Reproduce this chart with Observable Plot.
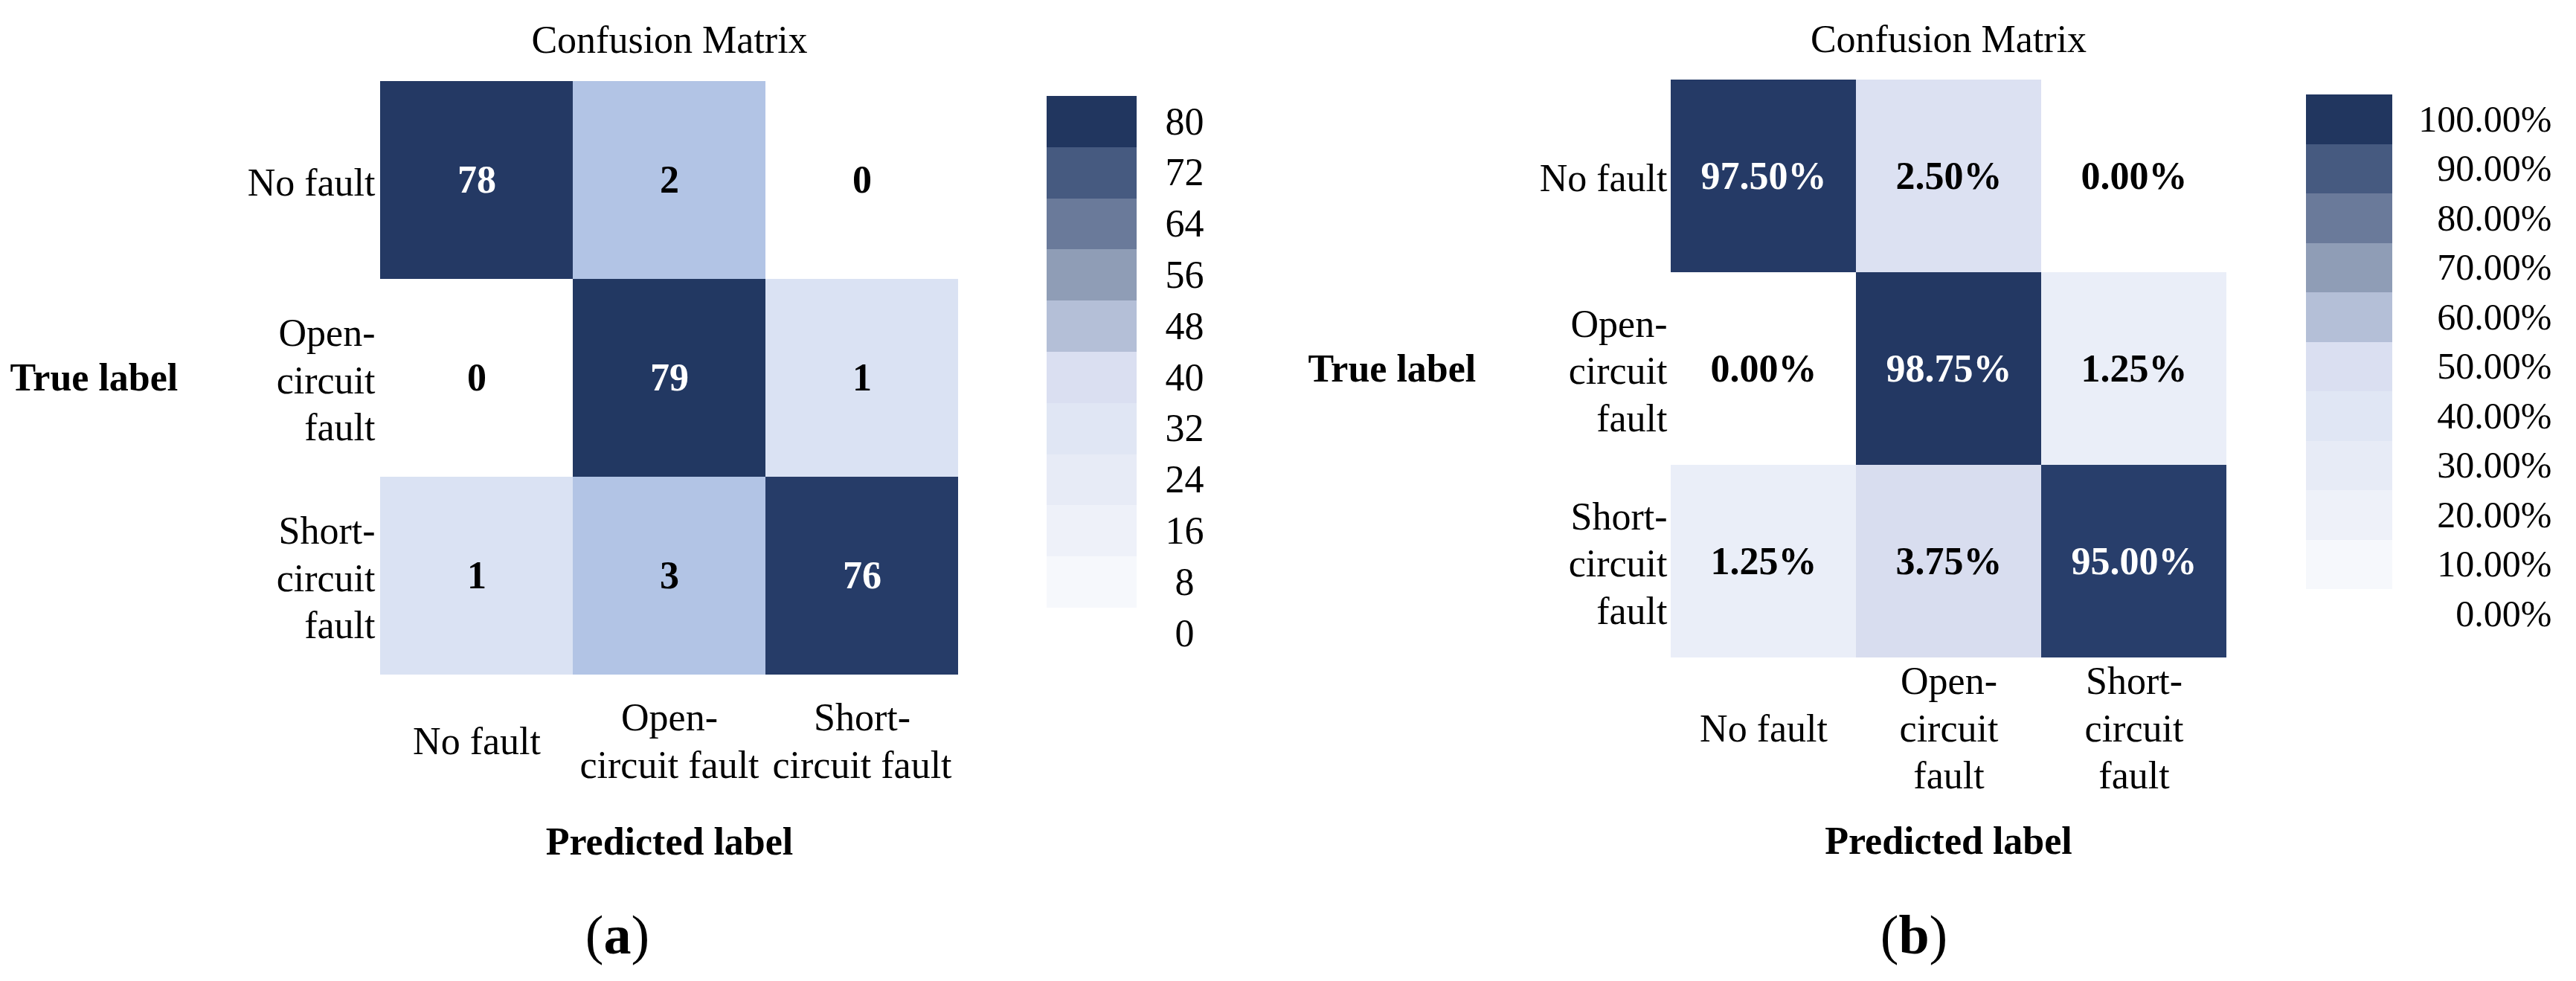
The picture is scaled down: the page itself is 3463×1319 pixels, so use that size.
<!DOCTYPE html>
<html>
<head>
<meta charset="utf-8">
<script src="https://cdn.jsdelivr.net/npm/d3@7"></script>
<script src="https://cdn.jsdelivr.net/npm/@observablehq/plot@0.6"></script>
<style>
  body { margin: 0; background: #fff; }
  #fig { position: relative; width: 3463px; height: 1319px; background: #fff; overflow: hidden; }
  #fig > div { position: absolute; }
  .tag { font-family: "Liberation Serif", "Times New Roman", serif; font-size: 74px; line-height: 74px; text-align: center; color: #000; }
</style>
</head>
<body>
<div id="fig"></div>
<script>
// ---------- data ----------
const classes = ["No fault", "Open-circuit fault", "Short-circuit fault"];
const rowTickLabels = ["No fault", "Open-\ncircuit\nfault", "Short-\ncircuit\nfault"];
const colTickLabelsA = ["No fault", "Open-\ncircuit fault", "Short-\ncircuit fault"];
const colTickLabelsB = ["No fault", "Open-\ncircuit\nfault", "Short-\ncircuit\nfault"];
// rows = true label, columns = predicted label
const countsA = [
  [78, 2, 0],
  [0, 79, 1],
  [1, 3, 76]
];
const percentB = [
  [97.50, 2.50, 0.00],
  [0.00, 98.75, 1.25],
  [1.25, 3.75, 95.00]
];
const cbTicksA = [0, 8, 16, 24, 32, 40, 48, 56, 64, 72, 80];
const cbTicksB = [0, 10, 20, 30, 40, 50, 60, 70, 80, 90, 100];
const titleText = "Confusion Matrix";
const xTitle = "Predicted label";
const yTitle = "True label";

// ---------- styles ----------
const FONT = '"Liberation Serif", "Times New Roman", serif';
const cbColors = ["#f6f8fc", "#eef1f9", "#e7ebf6", "#e0e6f4", "#dadff1",
                  "#b4bfd7", "#8f9db6", "#6a7a9a", "#465a80", "#21365f"];
const cellColorA = { domain: [0, 1, 2, 3, 76, 80],
  range: ["#ffffff", "#dae2f3", "#b2c4e5", "#b2c4e5", "#263c68", "#213660"] };
const cellColorB = { domain: [0, 1.25, 2.5, 3.75, 95, 100],
  range: ["#ffffff", "#eaeef8", "#dce1f2", "#d8ddef", "#283e6b", "#213660"] };

function toCells(matrix) {
  const out = [];
  matrix.forEach((row, i) => row.forEach((v, j) => out.push({ t: classes[i], p: classes[j], v })));
  return out;
}

function matrixPlot(o) {
  const cells = toCells(o.matrix);
  return Plot.plot({
    width: o.width, height: o.height,
    marginLeft: o.ml, marginRight: o.mr, marginTop: o.mt, marginBottom: o.mb,
    style: { fontFamily: FONT, fontSize: "52px", background: "#fff", color: "#000", maxWidth: "none" },
    x: { type: "band", domain: classes, padding: 0 },
    y: { type: "band", domain: classes, padding: 0 },
    color: { type: "linear", domain: o.color.domain, range: o.color.range, interpolate: "rgb" },
    marks: [
      Plot.cell(cells, { x: "p", y: "t", fill: "v", inset: 0, shapeRendering: "crispEdges" }),
      Plot.text(cells.filter(d => d.v > o.whiteAbove), { x: "p", y: "t", text: d => o.fmt(d.v), fill: "white", fontWeight: "bold", fontSize: 52 }),
      Plot.text(cells.filter(d => d.v <= o.whiteAbove), { x: "p", y: "t", text: d => o.fmt(d.v), fill: "black", fontWeight: "bold", fontSize: 52 }),
      Plot.axisX({ anchor: "bottom", tickSize: 0, tickPadding: o.xPad, lineAnchor: "middle", lineHeight: 1.22,
        tickFormat: d => o.colLabels[classes.indexOf(d)], label: null, fontSize: 52 }),
      Plot.axisY({ anchor: "left", tickSize: 0, tickPadding: o.yPad, lineAnchor: "middle", lineHeight: 1.22,
        tickFormat: d => rowTickLabels[classes.indexOf(d)], label: null, fontSize: 52 }),
      Plot.text([titleText], { frameAnchor: "top", lineAnchor: "bottom", dy: -38, text: d => d, fontSize: 52 }),
      Plot.text([xTitle], { frameAnchor: "bottom", lineAnchor: "bottom", dy: o.predDy, text: d => d, fontSize: 52, fontWeight: "bold" }),
      Plot.text([yTitle], { frameAnchor: "left", textAnchor: "start", lineAnchor: "middle", dx: o.trueDx, text: d => d, fontSize: 52, fontWeight: "bold" })
    ]
  });
}

function colorbarPlot(o) {
  const ticks = o.ticks;
  const step = ticks[1] - ticks[0];
  const bands = ticks.slice(0, -1);
  return Plot.plot({
    width: o.width, height: o.height,
    marginLeft: o.ml, marginRight: o.mr, marginTop: o.mt, marginBottom: o.mb,
    style: { fontFamily: FONT, fontSize: "52px", background: "#fff", color: "#000", maxWidth: "none" },
    y: { domain: [ticks[0], ticks[ticks.length - 1]], axis: null },
    color: { type: "threshold", domain: bands.slice(1), range: cbColors },
    marks: [
      Plot.rect(bands, { y1: d => d, y2: d => d + step, fill: d => d, shapeRendering: "crispEdges" }),
      Plot.text(ticks, { y: d => d - step / 2, frameAnchor: "right", dx: o.labelDx, textAnchor: o.labelAnchor,
        text: o.fmt, fontSize: o.fontSize, lineAnchor: "middle" })
    ]
  });
}

function place(el, left, top, width) {
  const d = document.createElement("div");
  d.style.left = left + "px";
  d.style.top = top + "px";
  d.style.width = width + "px";
  d.appendChild(el);
  document.getElementById("fig").appendChild(d);
  return d;
}

// ---------- panel (a) ----------
place(matrixPlot({
  matrix: countsA, fmt: v => String(v), colLabels: colTickLabelsA, color: cellColorA, whiteAbove: 50,
  width: 1380, height: 1319, ml: 511, mr: 92, mt: 108, mb: 411,
  xPad: 85, yPad: 7, predDy: 240, trueDx: -498
}), 0, 0, 1380);

place(colorbarPlot({
  ticks: cbTicksA, fmt: v => String(v), labelDx: 64, labelAnchor: "middle", fontSize: 52,
  width: 300, height: 1319, ml: 27, mr: 152, mt: 129, mb: 502
}), 1380, 0, 300);

// ---------- panel (b) ----------
place(matrixPlot({
  matrix: percentB, fmt: v => v.toFixed(2) + "%", colLabels: colTickLabelsB, color: cellColorB, whiteAbove: 50,
  width: 1340, height: 1319, ml: 515, mr: 77, mt: 107, mb: 435,
  xPad: 92, yPad: 4, predDy: 263, trueDx: -487
}), 1730, 0, 1340);

place(colorbarPlot({
  ticks: cbTicksB, fmt: v => v.toFixed(2) + "%", labelDx: 214, labelAnchor: "end", fontSize: 50,
  width: 393, height: 1319, ml: 30, mr: 247, mt: 127, mb: 527
}), 3070, 0, 393);

// ---------- sub-figure tags ----------
function tag(letter, centerX) {
  const d = document.createElement("div");
  d.className = "tag";
  d.innerHTML = "(<b>" + letter + "</b>)";
  d.style.left = (centerX - 100) + "px";
  d.style.top = "1220px";
  d.style.width = "200px";
  document.getElementById("fig").appendChild(d);
}
tag("a", 830);
tag("b", 2573);
</script>
</body>
</html>
